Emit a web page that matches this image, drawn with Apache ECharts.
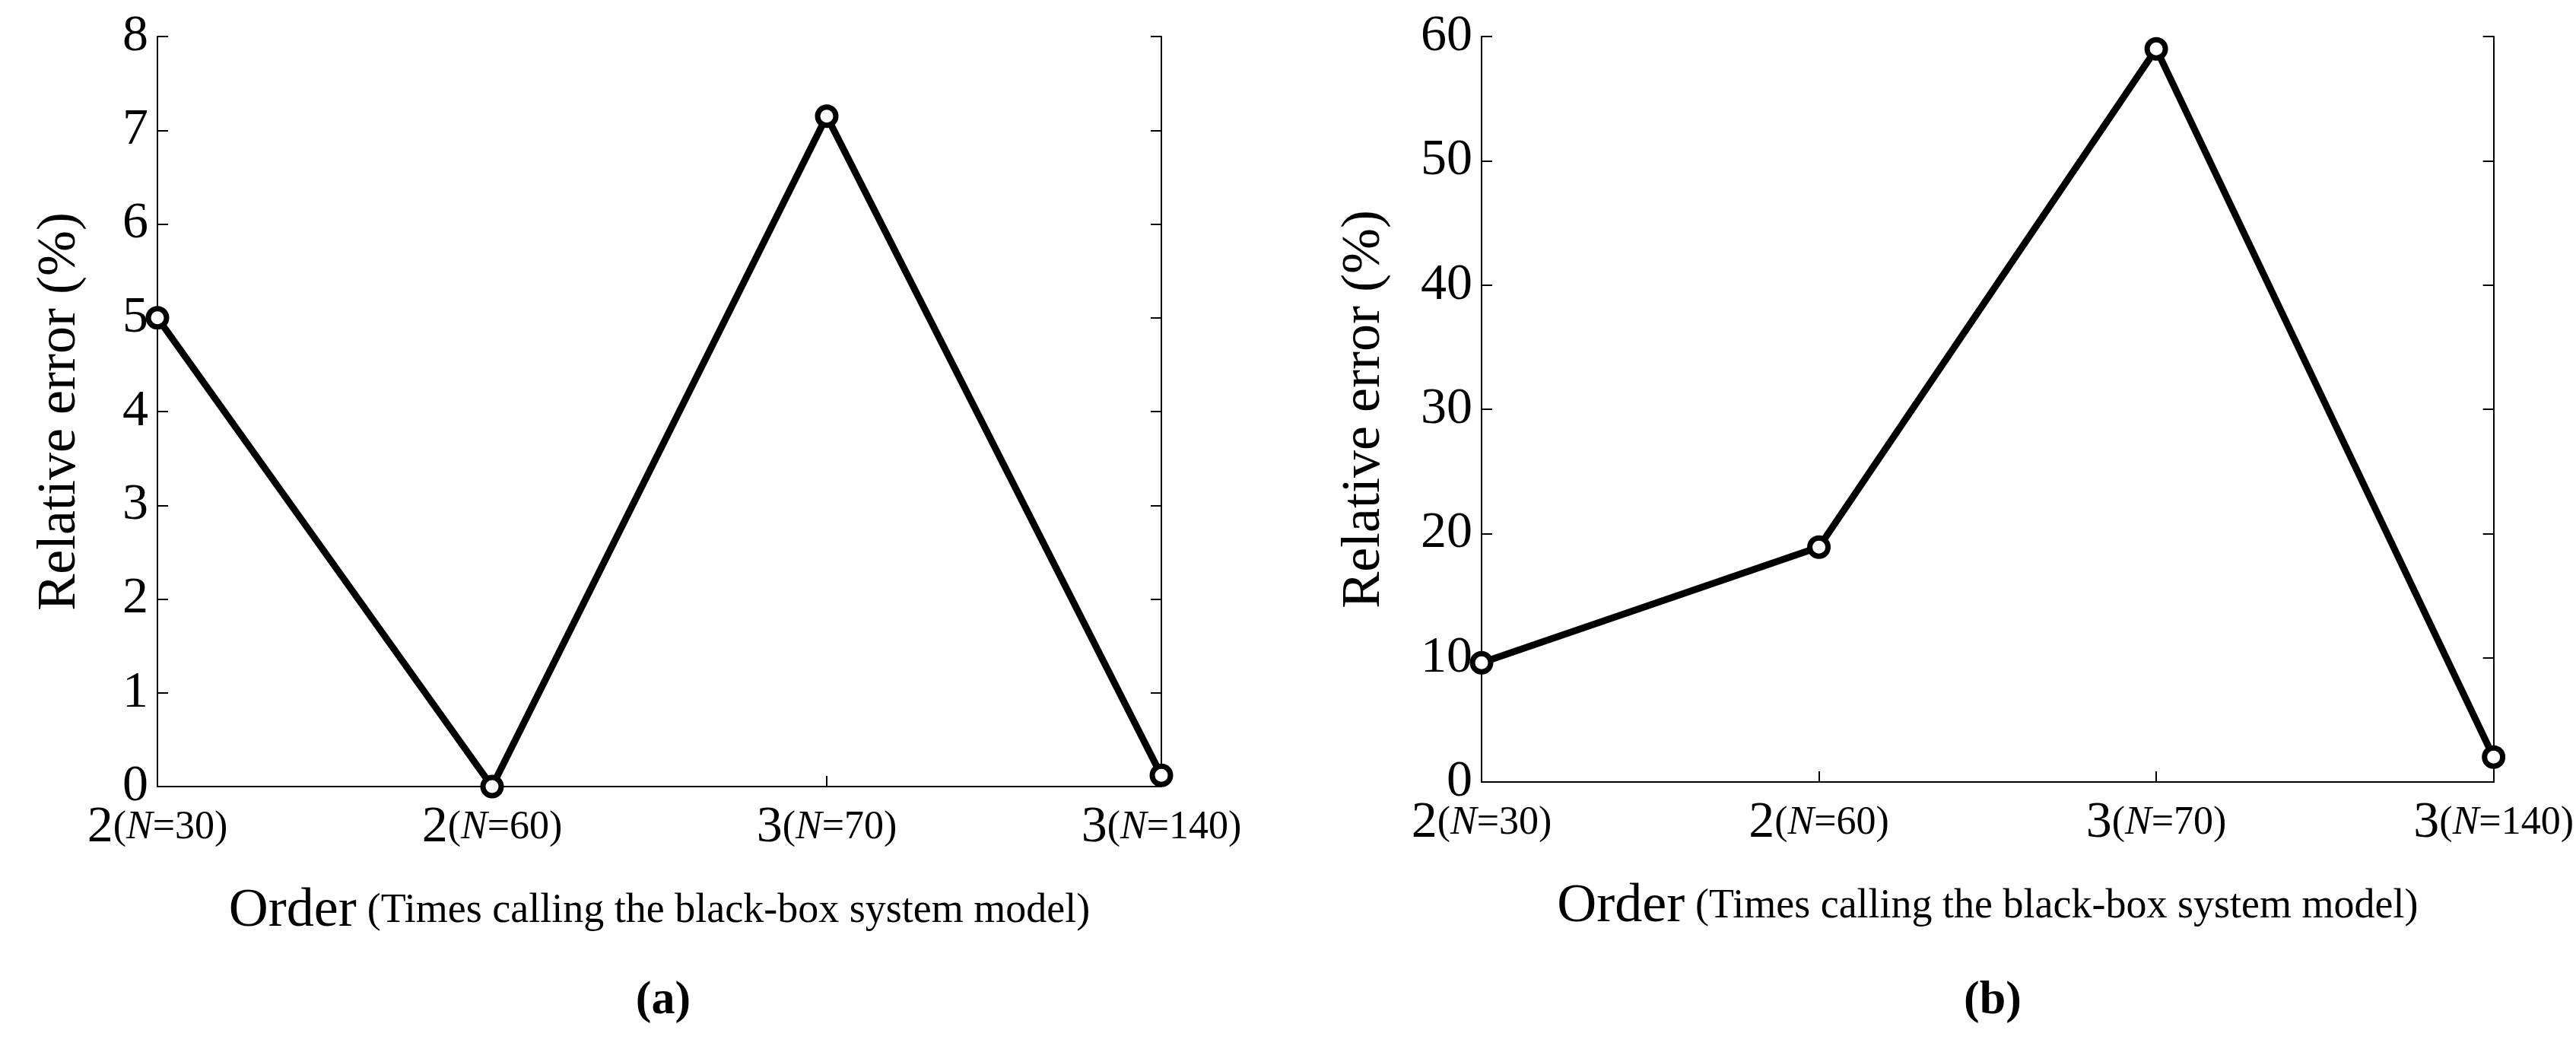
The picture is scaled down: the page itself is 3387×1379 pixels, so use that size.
<!DOCTYPE html>
<html><head><meta charset="utf-8">
<script src="https://cdn.jsdelivr.net/npm/echarts@6/dist/echarts.min.js"></script>
<style>html,body{margin:0;background:#fff}#c{width:3387px;height:1379px}</style>
</head><body><div id="c"></div>
<script>
const orders = ['2', '2', '3', '3'];
const callCounts = [30, 60, 70, 140];
const errorA = [5.0, 0.0, 7.15, 0.12];
const errorB = [9.6, 18.9, 59.0, 2.0];
const ticksA = { min: 0, max: 8, interval: 1 };
const ticksB = { min: 0, max: 60, interval: 10 };

const font = '"Liberation Serif", "DejaVu Serif", serif';
const cats = orders.map((o, i) => o + '|' + callCounts[i]);
const chart = echarts.init(document.getElementById('c'));

function xLabel(v) {
    const [o, n] = v.split('|');
    return '{big|' + o + '}{sm|(}{it|N}{sm|=' + n + ')}';
}
const labelRich = {
    big: { fontSize: 68, fontFamily: font, color: '#000' },
    sm: { fontSize: 52, fontFamily: font, color: '#000' },
    it: { fontSize: 52, fontFamily: font, fontStyle: 'italic', color: '#000' }
};
const axisLine = { show: true, lineStyle: { color: '#000', width: 2 } };

const grids = [
    { left: 207, right: 3387 - 1527, top: 48, bottom: 1379 - 1034 },
    { left: 1948, right: 3387 - 3283, top: 48, bottom: 1379 - 1028 }
];
const tks = [ticksA, ticksB];

const xAxis = [], yAxis = [], series = [];
[errorA, errorB].forEach((vals, g) => {
    xAxis.push({
        type: 'category', gridIndex: g, data: cats, boundaryGap: false,
        axisLine, axisTick: { inside: true, length: 14, lineStyle: { color: '#000', width: 2 } },
        axisLabel: { formatter: xLabel, rich: labelRich, margin: 20 },
        name: '{o|Order}{p|(Times calling the black-box system model)}',
        nameLocation: 'middle', nameGap: 128,
        nameTextStyle: { rich: {
            o: { fontSize: 72, fontFamily: font, color: '#000', padding: [0, 14, 0, 0] },
            p: { fontSize: 54, fontFamily: font, color: '#000' } } }
    });
    xAxis.push({
        type: 'category', gridIndex: g, data: cats, boundaryGap: false, position: 'top',
        axisLine, axisTick: { show: false }, axisLabel: { show: false }
    });
    yAxis.push({
        type: 'value', gridIndex: g, min: tks[g].min, max: tks[g].max, interval: tks[g].interval,
        axisLine, splitLine: { show: false },
        axisTick: { show: true, inside: true, length: 14, lineStyle: { color: '#000', width: 2 } },
        axisLabel: { fontSize: 68, fontFamily: font, color: '#000', margin: 12 },
        name: 'Relative error (%)', nameLocation: 'middle', nameGap: g === 0 ? 92 : 118,
        nameTextStyle: { fontSize: 72, fontFamily: font, color: '#000' }
    });
    yAxis.push({
        type: 'value', gridIndex: g, position: 'right', min: tks[g].min, max: tks[g].max, interval: tks[g].interval,
        axisLine, splitLine: { show: false }, axisLabel: { show: false },
        axisTick: { show: true, inside: true, length: 14, lineStyle: { color: '#000', width: 2 } }
    });
    series.push({
        type: 'line', xAxisIndex: g * 2, yAxisIndex: g * 2, data: vals,
        symbol: 'circle', symbolSize: 24, showAllSymbol: true,
        lineStyle: { color: '#000', width: 9 },
        itemStyle: { color: '#fff', borderColor: '#000', borderWidth: 7 },
        z: 5, animation: false
    });
});

chart.setOption({
    animation: false,
    grid: grids,
    xAxis, yAxis, series,
    title: [
        { text: '{n|(}{b|a}{n|)}', left: 867, top: 1280, textAlign: 'center' },
        { text: '{n|(}{b|b}{n|)}', left: 2615, top: 1280, textAlign: 'center' }
    ].map(t => Object.assign(t, { textStyle: { rich: {
        n: { fontSize: 62, fontFamily: font, color: '#000' },
        b: { fontSize: 62, fontFamily: font, fontWeight: 'bold', color: '#000' } } } }))
});
</script></body></html>
